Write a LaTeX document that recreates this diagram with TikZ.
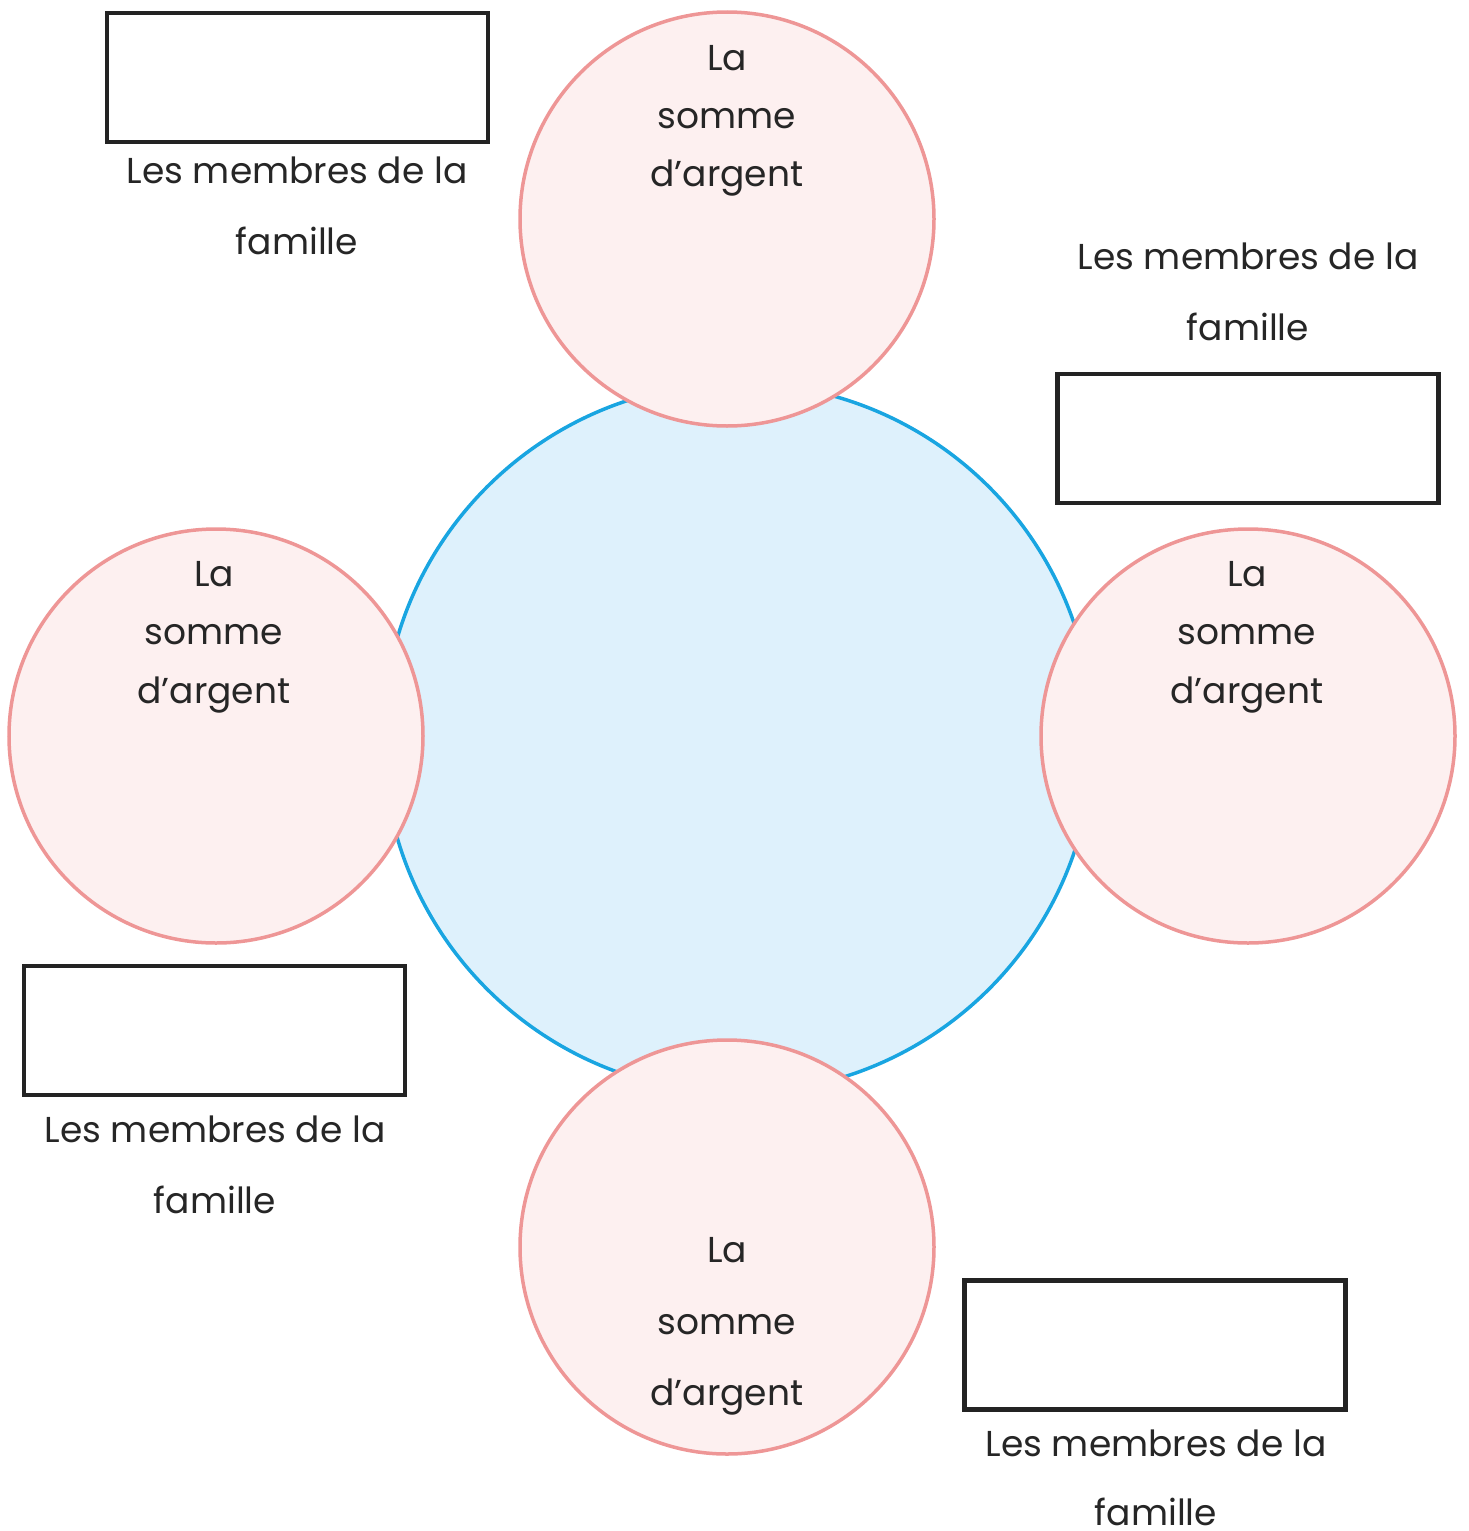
\documentclass[tikz,border=0pt]{standalone}
\usepackage{fontspec}
\setmainfont{Poppins}
\definecolor{pinkline}{RGB}{238,150,150}
\definecolor{pinkfill}{RGB}{253,240,240}
\definecolor{blueline}{RGB}{25,165,225}
\definecolor{bluefill}{RGB}{222,241,252}
\definecolor{boxline}{RGB}{35,35,35}
\begin{document}
\begin{tikzpicture}[x=1pt,y=-1pt,
  money/.style={circle,draw=pinkline,fill=pinkfill,line width=3.5pt,minimum size=414pt,inner sep=0pt},
  centre/.style={circle,draw=blueline,fill=bluefill,line width=3.5pt,minimum size=710pt,inner sep=0pt},
  namebox/.style={rectangle,draw=boxline,line width=4.5pt,minimum width=381pt,minimum height=129pt,inner sep=0pt},
  lbl/.style={anchor=base,inner sep=0pt,text=black!85,font=\fontsize{36}{40}\selectfont}]
\useasboundingbox (0,0) rectangle (1468,1531);
\node[centre] (ctr) at (738,738) {};
\node[money] (ctop) at (727,219) {};
\node[money] (cleft) at (216,736) {};
\node[money] (cright) at (1248,736) {};
\node[money] (cbot) at (727,1247) {};
% circle texts
\node[lbl] (ta1) at (727,70) {La};
\node[lbl] (ta2) at (727,128) {somme};
\node[lbl] (ta3) at (727,186) {d’argent};
\node[lbl] (la1) at (214,586) {La};
\node[lbl] (la2) at (214,644) {somme};
\node[lbl] (la3) at (214,703) {d’argent};
\node[lbl] (ra1) at (1247,586) {La};
\node[lbl] (ra2) at (1247,644) {somme};
\node[lbl] (ra3) at (1247,703) {d’argent};
\node[lbl] (ba1) at (727,1262) {La};
\node[lbl] (ba2) at (727,1334) {somme};
\node[lbl] (ba3) at (727,1405) {d’argent};
% boxes
\node[namebox] (rtl) at (297.5,77.5) {};
\node[namebox] (rr) at (1248,438.5) {};
\node[namebox] (rl) at (214.5,1030.5) {};
\node[namebox] (rbr) at (1155,1345) {};
% box labels
\node[lbl] (m1a) at (297,183) {Les membres de la};
\node[lbl] (m1b) at (297,254) {famille};
\node[lbl] (m2a) at (1248,269) {Les membres de la};
\node[lbl] (m2b) at (1248,340) {famille};
\node[lbl] (m3a) at (215,1142) {Les membres de la};
\node[lbl] (m3b) at (215,1213) {famille};
\node[lbl] (m4a) at (1156,1456) {Les membres de la};
\node[lbl] (m4b) at (1156,1525) {famille};
\end{tikzpicture}
\end{document}
